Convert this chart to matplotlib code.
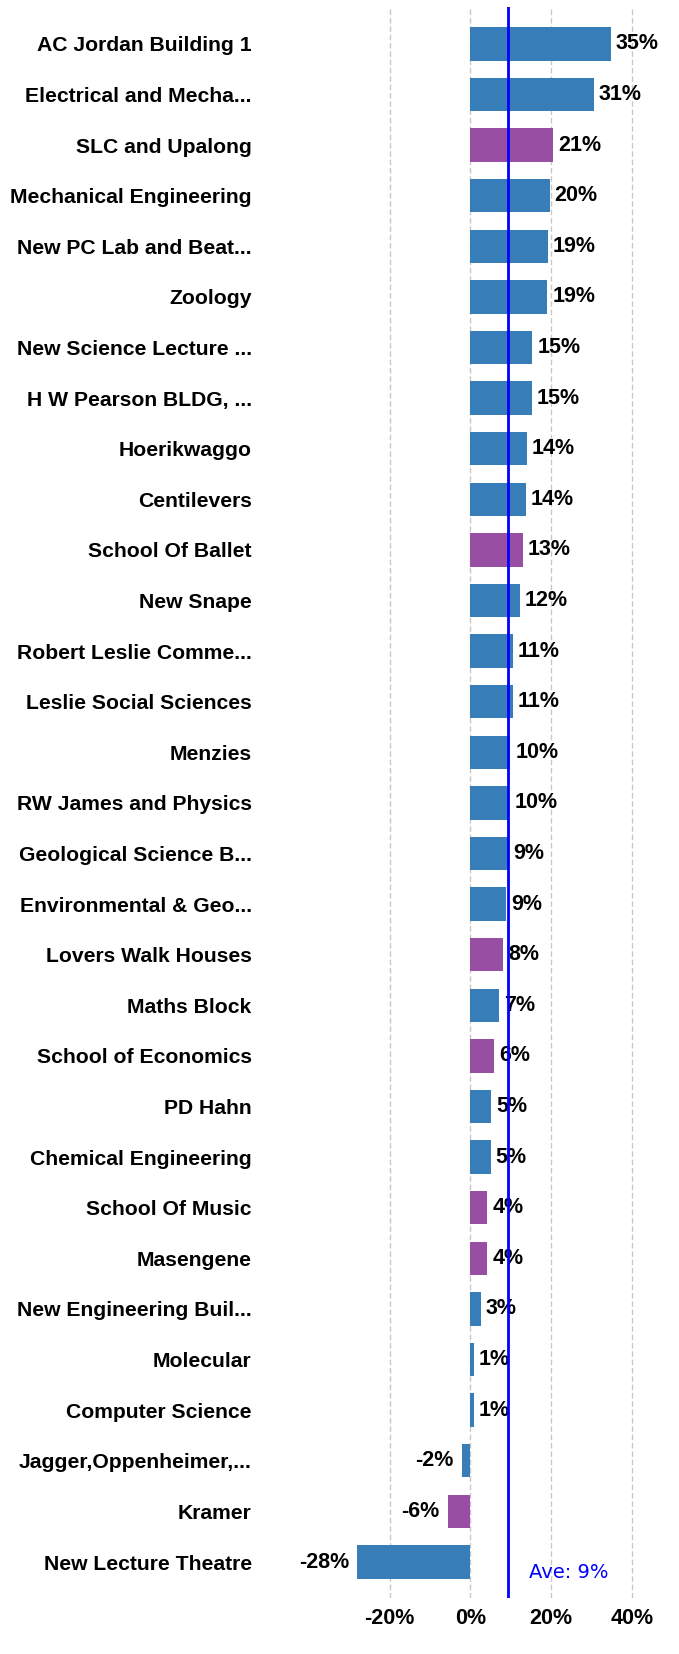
import matplotlib
matplotlib.use("Agg")
import matplotlib.pyplot as plt

buildings = ["AC Jordan Building 1", "Electrical and Mecha...", "SLC and Upalong",
             "Mechanical Engineering", "New PC Lab and Beat...", "Zoology",
             "New Science Lecture ...", "H W Pearson BLDG, ...", "Hoerikwaggo",
             "Centilevers", "School Of Ballet", "New Snape", "Robert Leslie Comme...",
             "Leslie Social Sciences", "Menzies", "RW James and Physics",
             "Geological Science B...", "Environmental & Geo...", "Lovers Walk Houses",
             "Maths Block", "School of Economics", "PD Hahn", "Chemical Engineering",
             "School Of Music", "Masengene", "New Engineering Buil...", "Molecular",
             "Computer Science", "Jagger,Oppenheimer,...", "Kramer", "New Lecture Theatre"]
change_pct = [34.8, 30.6, 20.6, 19.7, 19.3, 19.1, 15.4, 15.2, 14.1, 13.8, 13.1, 12.3,
              10.6, 10.6, 9.9, 9.7, 9.4, 8.9, 8.1, 7.1, 5.9, 5.2, 5.0, 4.2, 4.2, 2.6,
              0.8, 0.8, -2.1, -5.6, -28.0]
residence = ["SLC and Upalong", "School Of Ballet", "Lovers Walk Houses",
             "School of Economics", "School Of Music", "Masengene", "Kramer"]
average_pct = 9.45
average_label = "Ave: 9%"
x_ticks = [-20, 0, 20, 40]

BLUE = "#377EB8"
PURPLE = "#984EA3"

fig = plt.figure(figsize=(6.79, 16.54), dpi=100)
ax = fig.add_axes([0.4669, 0.0339, 0.4932, 0.9619])

y = list(range(len(buildings)))
colors = [PURPLE if b in residence else BLUE for b in buildings]
ax.barh(y, change_pct, height=0.66, color=colors, zorder=2)

for yi, v in zip(y, change_pct):
    txt = f"{round(v):d}%"
    if v >= 0:
        ax.annotate(txt, (v, yi), xytext=(3.5, 0), textcoords="offset points",
                    ha="left", va="center", fontsize=15.5, fontweight="bold",
                    family="Liberation Sans", color="black", zorder=3,
                    annotation_clip=False)
    else:
        ax.annotate(txt, (v, yi), xytext=(-6, 0), textcoords="offset points",
                    ha="right", va="center", fontsize=15.5, fontweight="bold",
                    family="Liberation Sans", color="black", zorder=3,
                    annotation_clip=False)

ax.axvline(average_pct, color="#0000FF", lw=2.0, zorder=4)
ax.text(average_pct + 5.1, 30.2, average_label, color="#0000FF", fontsize=14,
        family="DejaVu Sans", ha="left", va="center", zorder=4)

ax.set_xlim(-38, 45)
ax.set_ylim(30.71, -0.73)
ax.set_xticks(x_ticks)
ax.set_xticklabels([f"{t}%" for t in x_ticks], fontsize=15.5, fontweight="bold",
                   family="Liberation Sans")
ax.set_yticks(y)
ax.set_yticklabels(buildings, fontsize=15.2, fontweight="bold", family="Liberation Sans")
ax.tick_params(axis="y", length=0, pad=47)
ax.tick_params(axis="x", length=0, pad=7)
ax.grid(axis="x", color="#c8c8c8", linestyle=(0, (4, 2)), lw=1, zorder=0)
ax.set_axisbelow(True)
for s in ax.spines.values():
    s.set_visible(False)

fig.savefig("out.png", dpi=100)
